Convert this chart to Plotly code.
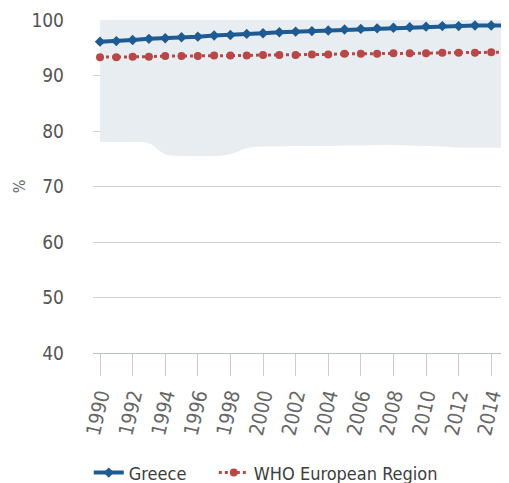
import plotly.graph_objects as go

years = list(range(1990, 2016))
greece = [96.1, 96.2, 96.4, 96.6, 96.7, 96.9, 97.0, 97.2, 97.3, 97.5, 97.6, 97.8, 97.9, 98.0,
          98.1, 98.3, 98.4, 98.5, 98.6, 98.7, 98.8, 98.9, 98.9, 99.0, 99.0, 99.0]
who_europe = [93.3, 93.3, 93.4, 93.4, 93.5, 93.5, 93.5, 93.6, 93.6, 93.6, 93.7, 93.7, 93.7, 93.8,
              93.8, 93.9, 93.9, 93.9, 94.0, 94.0, 94.0, 94.1, 94.1, 94.1, 94.2, 94.2]
band_min = [78.0, 78.0, 78.0, 77.8, 75.8, 75.5, 75.5, 75.5, 75.8, 76.9, 77.2, 77.2, 77.3, 77.3,
            77.3, 77.4, 77.4, 77.5, 77.5, 77.4, 77.3, 77.2, 77.0, 77.0, 77.0, 77.0]
band_max = [100.0] * 26
tick_years = list(range(1990, 2016, 2))
y_ticks = [40, 50, 60, 70, 80, 90, 100]

FONT = "DejaVu Sans Condensed, Roboto, sans-serif"

fig = go.Figure()
fig.add_trace(go.Scatter(x=years, y=band_min, mode="lines", line=dict(width=0, shape="spline"),
                         showlegend=False, hoverinfo="skip"))
fig.add_trace(go.Scatter(x=years, y=band_max, mode="lines", line=dict(width=0),
                         fill="tonexty", fillcolor="#e8edf2", showlegend=False, hoverinfo="skip"))
fig.add_trace(go.Scatter(x=years, y=greece, name="Greece", mode="lines+markers",
                         line=dict(color="#1d5b92", width=4),
                         marker=dict(symbol="diamond", size=8, color="#1d5b92"),
                         legend="legend"))
fig.add_trace(go.Scatter(x=years, y=who_europe, name="WHO European Region", mode="lines+markers",
                         line=dict(color="#b94747", width=3, dash="dot"),
                         marker=dict(symbol="circle", size=8, color="#b94747"),
                         legend="legend2"))

legend_font = dict(size=18, color="#3d3d3d")
fig.update_layout(
    width=509, height=483,
    margin=dict(l=85, r=0, t=12, b=138, autoexpand=False),
    paper_bgcolor="white", plot_bgcolor="white",
    font=dict(family=FONT, color="#555555"),
    showlegend=True,
    legend=dict(orientation="h", x=-0.01, xanchor="left", y=-0.36, yanchor="middle",
                font=legend_font),
    legend2=dict(orientation="h", x=0.285, xanchor="left", y=-0.36, yanchor="middle",
                 font=legend_font),
    xaxis=dict(range=[1989.57, 2015.58], tickmode="array", tickvals=tick_years,
               ticktext=[str(t) for t in tick_years], tickangle=-77, automargin=False,
               tickfont=dict(size=20, color="#666666"), showgrid=False,
               showline=True, linecolor="#b8c0c8", linewidth=1,
               ticks="outside", ticklen=22, tickcolor="#c8cdd2", tickwidth=1, zeroline=False),
    yaxis=dict(range=[40, 100], tickmode="array", tickvals=y_ticks, automargin=False,
               tickfont=dict(size=19, color="#555555"), showgrid=True, gridcolor="#cfd4d8",
               gridwidth=1, zeroline=False, ticks="", ticklabelstandoff=28,
               title=dict(text="%", font=dict(size=16, color="#666666"), standoff=1)),
)

fig.write_html("out.html")
